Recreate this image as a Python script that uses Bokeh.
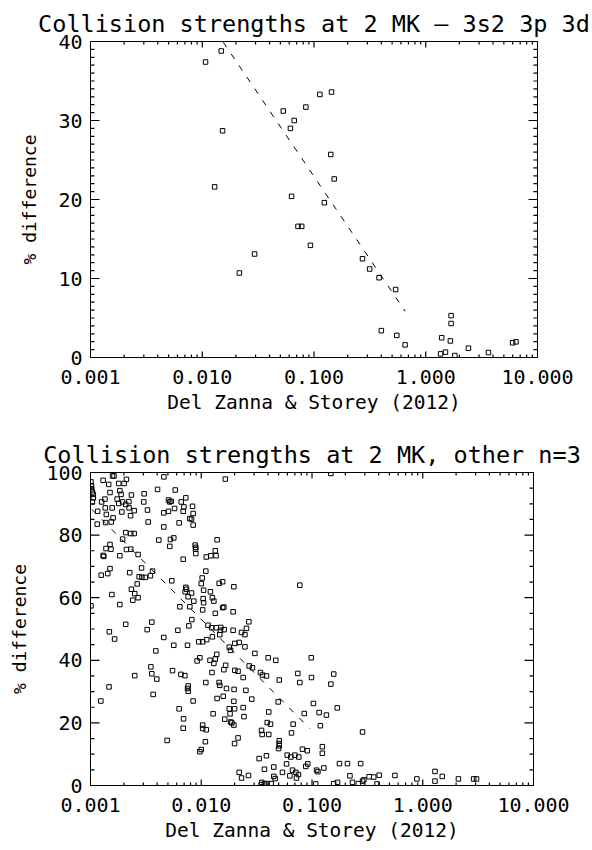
from bokeh.plotting import figure
from bokeh.models import Range1d, LinearAxis, LogAxis, FixedTicker, PrintfTickFormatter, ColumnDataSource
from bokeh.layouts import column
from bokeh.embed import file_html
from bokeh.resources import INLINE

FONT = "DejaVu Sans Mono"

# ---------------- data: top panel (3s2 3p 3d) ----------------
top_title = "Collision strengths at 2 MK \u2013 3s2 3p 3d"
top_x = [0.0107, 0.0148, 0.0152, 0.0129, 0.0215, 0.0294, 0.0531, 0.0665, 0.0615, 0.0846,
         0.1128, 0.1435, 0.1413, 0.1516, 0.1238, 0.0630, 0.0719, 0.0776, 0.0929, 0.2716,
         0.3147, 0.3822, 0.538, 0.4004, 0.5507, 0.6535, 1.389, 1.686, 1.686, 1.660,
         1.357, 1.501, 1.823, 2.411, 3.641, 5.99, 6.42]
top_y = [37.4, 38.8, 28.7, 21.6, 10.7, 13.1, 31.2, 30.0, 29.0, 31.7,
         33.3, 33.6, 25.7, 22.6, 19.6, 20.4, 16.6, 16.6, 14.2, 12.5,
         11.2, 10.1, 8.6, 3.4, 2.8, 1.6, 2.5, 5.3, 4.3, 2.1,
         0.46, 0.68, 0.25, 1.18, 0.63, 1.86, 1.98]
top_fit_x = [0.01543, 0.6535]
top_fit_y = [39.9, 5.86]

# ---------------- data: bottom panel (other n=3) ----------------
bot_title = "Collision strengths at 2 MK, other n=3"
bot_x = [0.00158, 0.00163, 0.00460, 0.0165, 0.00130, 0.00211, 0.00101, 0.00146, 0.00180, 0.00201,
         0.00403, 0.00582, 0.00104, 0.00150, 0.00184, 0.00189, 0.00234, 0.00305, 0.00506, 0.00535,
         0.00520, 0.00659, 0.00726, 0.00106, 0.00104, 0.00126, 0.00135, 0.00174, 0.00180, 0.00195,
         0.00208, 0.00222, 0.00192, 0.00248, 0.00303, 0.00327, 0.00459, 0.00506, 0.00574, 0.00687,
         0.00697, 0.00834, 0.00789, 0.00845, 0.00116, 0.00136, 0.00157, 0.00139, 0.00160, 0.00230,
         0.00223, 0.00154, 0.00115, 0.00137, 0.00332, 0.00459, 0.00631, 0.00817, 0.00845, 0.00248,
         0.00208, 0.00231, 0.00195, 0.00414, 0.00527, 0.00565, 0.00520, 0.0139, 0.00150, 0.00138,
         0.00153, 0.00211, 0.00231, 0.00130, 0.00132, 0.00184, 0.00269, 0.00687, 0.00881, 0.00893,
         0.00887, 0.00893, 0.0111, 0.0122, 0.0134, 0.0136, 0.00289, 0.00150, 0.00143, 0.00125,
         0.00363, 0.00226, 0.00275, 0.00291, 0.00312, 0.00264, 0.00348, 0.00542, 0.00234, 0.00251,
         0.00269, 0.00156, 0.00184, 0.00241, 0.00101, 0.00208, 0.00358, 0.00726, 0.00736, 0.00716,
         0.00762, 0.00817, 0.0102, 0.0100, 0.0105, 0.0121, 0.0104, 0.0110, 0.0145, 0.0156,
         0.0197, 0.0126, 0.0130, 0.0156, 0.0160, 0.0134, 0.0103, 0.0194, 0.0105, 0.00857,
         0.00789, 0.00641, 0.00822, 0.0115, 0.0124, 0.0137, 0.0150, 0.00773, 0.00148, 0.00165,
         0.00325, 0.00615, 0.00459, 0.00389, 0.00565, 0.00752, 0.00950, 0.0103, 0.0112, 0.0126,
         0.0147, 0.0149, 0.0161, 0.0194, 0.0179, 0.0184, 0.0201, 0.0138, 0.0134, 0.0120,
         0.0130, 0.00918, 0.00971, 0.0166, 0.0160, 0.0201, 0.0125, 0.00351, 0.00358, 0.00397,
         0.00550, 0.00655, 0.00711, 0.00251, 0.00147, 0.00124, 0.00368, 0.00762, 0.00752, 0.00762,
         0.00845, 0.0110, 0.0145, 0.0147, 0.0169, 0.0198, 0.0139, 0.0158, 0.0197, 0.00631,
         0.0179, 0.0200, 0.0182, 0.0128, 0.00692, 0.00687, 0.0103, 0.0103, 0.0111, 0.0163,
         0.0184, 0.0189, 0.0197, 0.00492, 0.0109, 0.0200, 0.0100, 0.00971, 0.0269, 0.0256,
         0.0776, 0.148, 0.0231, 0.0248, 0.0220, 0.0248, 0.0305, 0.0402, 0.0471, 0.0984,
         0.0271, 0.0290, 0.0342, 0.0357, 0.0388, 0.0239, 0.0506, 0.0745, 0.0776, 0.0989,
         0.157, 0.148, 0.0253, 0.0215, 0.0286, 0.0495, 0.0239, 0.0243, 0.0407, 0.0851,
         0.103, 0.116, 0.135, 0.169, 0.119, 0.0676, 0.0394, 0.0422, 0.0653, 0.286,
         0.0350, 0.0355, 0.0407, 0.0506, 0.0506, 0.0506, 0.0499, 0.0215, 0.0820, 0.0906,
         0.124, 0.124, 0.0333, 0.0388, 0.0597, 0.0644, 0.0700, 0.0760, 0.0589, 0.0879,
         0.0916, 0.0372, 0.0452, 0.0541, 0.0667, 0.0714, 0.0755, 0.0724, 0.0631, 0.110,
         0.113, 0.128, 0.177, 0.209, 0.275, 0.0220, 0.0231, 0.0267, 0.0452, 0.0465,
         0.0352, 0.0372, 0.0394, 0.0428, 0.0348, 0.108, 0.157, 0.170, 0.220, 0.232,
         0.262, 0.286, 0.294, 0.328, 0.361, 0.404, 0.387, 0.561, 0.885, 1.29,
         1.29, 1.50, 2.10, 2.88, 3.06, 0.00102, 0.00102, 0.00106]
bot_y = [98.9, 98.9, 98.6, 97.9, 97.5, 97.8, 97.0, 96.2, 96.5, 96.5,
         94.6, 94.4, 93.8, 93.6, 94.2, 93.0, 92.8, 93.2, 91.2, 90.8,
         90.6, 90.6, 91.9, 93.0, 90.6, 90.6, 91.5, 91.5, 90.1, 90.6,
         89.8, 90.7, 87.4, 87.8, 90.6, 88.0, 87.1, 87.6, 88.5, 87.6,
         89.0, 89.2, 85.3, 86.9, 87.6, 88.7, 88.7, 86.6, 85.5, 86.2,
         88.7, 84.2, 83.5, 84.0, 84.2, 82.6, 83.9, 85.1, 83.2, 80.5,
         80.8, 80.5, 78.7, 78.4, 78.6, 79.1, 76.4, 78.5, 77.0, 75.7,
         75.5, 75.4, 75.5, 73.5, 73.2, 73.4, 73.8, 72.3, 76.8, 76.1,
         75.5, 74.1, 73.0, 73.4, 75.0, 73.4, 69.5, 69.3, 67.7, 67.2,
         68.5, 68.0, 66.7, 66.5, 66.5, 64.4, 67.0, 65.4, 62.7, 61.3,
         60.0, 61.0, 57.8, 59.2, 57.4, 51.5, 52.2, 63.3, 62.7, 61.9,
         60.3, 61.5, 66.3, 64.5, 62.4, 61.9, 59.7, 68.5, 64.6, 65.1,
         63.5, 60.0, 58.9, 56.8, 57.0, 55.0, 56.1, 55.5, 58.4, 58.9,
         57.1, 57.1, 53.0, 51.2, 50.4, 50.4, 50.5, 51.0, 49.1, 46.8,
         49.8, 49.6, 47.3, 43.0, 44.8, 44.8, 45.9, 45.9, 46.6, 47.5,
         48.2, 49.6, 49.8, 49.6, 44.2, 43.2, 45.4, 41.9, 40.4, 40.0,
         39.0, 39.8, 40.8, 38.4, 37.0, 36.8, 36.1, 37.9, 35.7, 34.0,
         36.7, 35.5, 35.1, 35.1, 31.5, 27.0, 29.1, 31.8, 31.0, 30.1,
         27.0, 32.9, 32.9, 32.0, 31.0, 30.7, 27.8, 28.5, 26.9, 24.5,
         24.5, 24.5, 22.9, 22.9, 21.3, 18.3, 19.3, 18.2, 17.8, 21.2,
         20.3, 20.0, 19.3, 14.4, 14.0, 13.4, 11.5, 10.8, 52.3, 50.2,
         64.0, 99.7, 48.9, 48.2, 45.7, 44.3, 42.2, 40.8, 40.0, 40.8,
         38.2, 37.6, 36.1, 35.3, 35.0, 34.5, 33.7, 35.8, 32.9, 34.5,
         35.6, 32.4, 30.4, 36.5, 27.6, 26.7, 24.9, 22.0, 23.5, 23.0,
         26.2, 23.3, 22.5, 24.8, 19.1, 19.6, 20.1, 19.6, 16.8, 17.1,
         17.6, 16.3, 16.3, 14.3, 13.4, 12.7, 11.8, 15.2, 11.6, 11.1,
         12.4, 10.3, 8.6, 9.5, 9.7, 9.1, 9.7, 9.1, 6.9, 6.1,
         6.9, 5.2, 5.9, 4.2, 4.9, 4.2, 3.5, 2.4, 3.1, 4.9,
         4.4, 5.6, 7.0, 7.0, 7.0, 4.2, 2.4, 3.2, 2.9, 2.2,
         1.0, 0.6, 0.6, 0.6, 0.3, 0.5, 0.6, 1.0, 3.1, 1.0,
         0.6, 1.4, 1.8, 2.8, 2.7, 3.3, 0.5, 3.2, 2.1, 1.4,
         4.5, 2.9, 2.1, 2.1, 2.1, 95.8, 94.8, 91.9]
bot_fit_x = [0.00103, 0.0955]
bot_fit_y = [88.2, 18.2]

x_label = "Del Zanna & Storey (2012)"
y_label = "% difference"
x_major = [0.001, 0.01, 0.1, 1.0, 10.0]
x_minor = [m * d for d in [0.001, 0.01, 0.1, 1.0] for m in range(2, 10)]
top_y_major = [0, 10, 20, 30, 40]
top_y_minor = [v for v in range(0, 41) if v % 10]
bot_y_major = [0, 20, 40, 60, 80, 100]
bot_y_minor = [v for v in range(0, 101, 5) if v % 20]

X0, X1 = 0.001, 10.0


def style_axis(ax, labels):
    ax.axis_line_color = "black"
    ax.axis_line_width = 1
    ax.major_tick_in = 0
    ax.major_tick_out = 0
    ax.minor_tick_in = 0
    ax.minor_tick_out = 0
    ax.major_label_text_font = FONT
    ax.major_label_text_color = "black"
    ax.axis_label_text_font = FONT
    ax.axis_label_text_font_style = "normal"
    ax.axis_label_text_color = "black"
    if not labels:
        ax.major_label_text_font_size = "1px"
        ax.major_label_text_color = None
        ax.major_label_standoff = 0


def add_ticks(p, fw, fh, ymax, ymaj, ymin):
    # inward tick marks as thin filled bars (about 1.2 px wide) inside the box
    per_px_x = 4.0 / fw          # decades per pixel (log axis)
    per_px_y = ymax / fh         # data units per pixel
    hw = 10 ** (0.6 * per_px_x)  # half bar width on the log axis, as a factor
    hh = 0.6 * per_px_y          # half bar height on the linear axis
    L, R, B, T = [], [], [], []
    for ticks, ln in (([t for t in x_major if X0 < t < X1], 6), (x_minor, 3)):
        for t in ticks:
            L += [t / hw, t / hw]
            R += [t * hw, t * hw]
            B += [0, ymax - ln * per_px_y]
            T += [ln * per_px_y, ymax]
    for ticks, ln in (([t for t in ymaj if 0 < t < ymax], 9), (ymin, 4)):
        f = 10 ** (ln * per_px_x)
        for t in ticks:
            L += [X0, X1 / f]
            R += [X0 * f, X1]
            B += [t - hh, t - hh]
            T += [t + hh, t + hh]
    p.quad(left=L, right=R, bottom=B, top=T, fill_color="black", line_color=None)


def panel(title, xs, ys, fx, fy, ymax, ymaj, ymin, left, top, fw, fh, bottom, ylab_standoff):
    p = figure(x_axis_type="log", x_range=Range1d(X0, X1), y_range=Range1d(0, ymax),
               frame_width=fw, frame_height=fh,
               min_border_left=left, min_border_right=592 - left - fw,
               min_border_top=top, min_border_bottom=bottom,
               output_backend="svg", toolbar_location=None, title=title)
    p.background_fill_color = "white"
    p.border_fill_color = "white"
    p.outline_line_color = "black"
    p.outline_line_width = 1
    p.xgrid.visible = False
    p.ygrid.visible = False
    p.title.text_font = FONT
    p.title.text_font_size = "23.5px"
    p.title.text_font_style = "normal"
    p.title.text_color = "black"
    p.title.align = "center"
    p.title.standoff = 7

    xt = FixedTicker(ticks=x_major, minor_ticks=x_minor)
    yt = FixedTicker(ticks=ymaj, minor_ticks=ymin)

    xa = p.xaxis[0]
    xa.ticker = xt
    xa.formatter = PrintfTickFormatter(format="%.3f")
    style_axis(xa, True)
    xa.major_label_text_font_size = "20px"
    xa.major_label_standoff = 12
    xa.axis_label = x_label
    xa.axis_label_text_font_size = "19.5px"
    xa.axis_label_standoff = 4

    ya = p.yaxis[0]
    ya.ticker = yt
    style_axis(ya, True)
    ya.major_label_text_font_size = "20px"
    ya.major_label_standoff = 8
    ya.axis_label = y_label
    ya.axis_label_text_font_size = "18px"
    ya.axis_label_standoff = ylab_standoff

    top_ax = LogAxis(ticker=xt)
    style_axis(top_ax, False)
    p.add_layout(top_ax, "above")
    right_ax = LinearAxis(ticker=yt)
    style_axis(right_ax, False)
    p.add_layout(right_ax, "right")

    add_ticks(p, fw, fh, ymax, ymaj, ymin)

    src = ColumnDataSource(data=dict(x=xs, y=ys))
    p.scatter("x", "y", source=src, marker="square", size=4.5, fill_color=None,
              line_color="black", line_width=1)
    p.line(fx, fy, line_color="black", line_width=1, line_dash="6 8")
    return p


p1 = panel(top_title, top_x, top_y, top_fit_x, top_fit_y, 40, top_y_major, top_y_minor,
           86, 41, 447, 316, 68, 15)
p2 = panel(bot_title, bot_x, bot_y, bot_fit_x, bot_fit_y, 100, bot_y_major, bot_y_minor,
           90, 47, 443, 313, 65, 13)

layout = column(p1, p2)
open("out.html", "w").write(file_html(layout, INLINE))
